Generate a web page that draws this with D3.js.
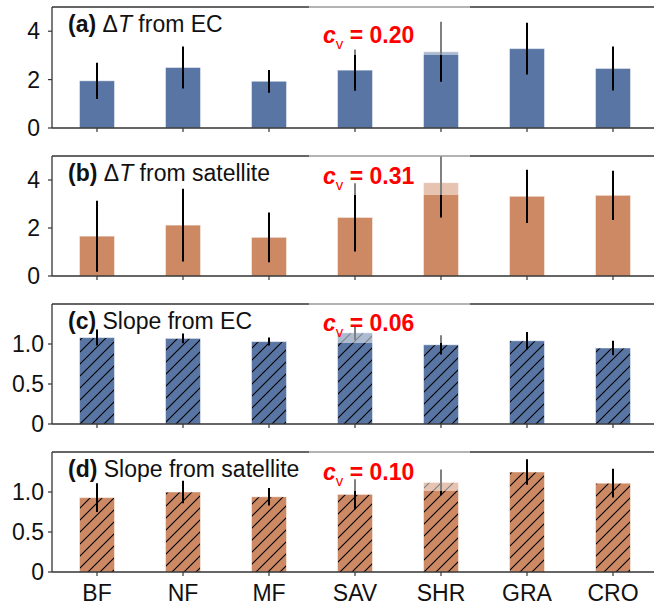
<!DOCTYPE html>
<html>
<head>
<meta charset="utf-8">
<script src="https://cdnjs.cloudflare.com/ajax/libs/d3/7.8.5/d3.min.js"></script>
<style>
  body { margin: 0; background: #fff; }
  svg { display: block; font-family: "Liberation Sans", Arial, sans-serif; }
</style>
</head>
<body>
<svg id="chart" width="654" height="605"></svg>
<script>
// land cover types
const categories = ["BF", "NF", "MF", "SAV", "SHR", "GRA", "CRO"];

// (a) dT from EC
const dtEcMean = [1.95, 2.50, 1.93, 2.39, 3.15, 3.28, 2.46];
const dtEcErr  = [0.75, 0.87, 0.47, 0.85, 1.24, 1.07, 0.91];
// (b) dT from satellite
const dtSatMean = [1.66, 2.12, 1.61, 2.44, 3.89, 3.32, 3.36];
const dtSatErr  = [1.48, 1.52, 1.04, 1.42, 1.45, 1.11, 1.03];
// (c) slope from EC
const slopeEcMean = [1.08, 1.07, 1.03, 1.14, 0.99, 1.04, 0.95];
const slopeEcErr  = [0.10, 0.06, 0.05, 0.09, 0.12, 0.11, 0.09];
// (d) slope from satellite
const slopeSatMean = [0.93, 1.00, 0.94, 0.97, 1.12, 1.25, 1.11];
const slopeSatErr  = [0.18, 0.14, 0.11, 0.19, 0.16, 0.16, 0.18];

const panelLetters = ["(a)", "(b)", "(c)", "(d)"];
const cvValues = ["0.20", "0.31", "0.06", "0.10"];

const dtTicks = [0, 2, 4];
const dtTickLabels = ["0", "2", "4"];
const slopeTicks = [0, 0.5, 1.0];
const slopeTickLabels = ["0", "0.5", "1.0"];

const blue = "#5875a4";
const orange = "#cc8963";
const spine = "#333";

const svg = d3.select("#chart");
const W = 654;

// hatch pattern for slope panels
const defs = svg.append("defs");
const hatch = defs.append("pattern")
    .attr("id", "hatch")
    .attr("patternUnits", "userSpaceOnUse")
    .attr("width", 12)
    .attr("height", 12);
hatch.append("path")
    .attr("d", "M0,12 L12,0 M-3,3 L3,-3 M9,15 L15,9")
    .attr("stroke", "#000")
    .attr("stroke-width", 1.1);

const x = d3.scaleBand()
    .domain(categories)
    .range([54, 656])
    .paddingInner(0.593)
    .paddingOuter(0.2965);

const panels = [
    { top: 7,   bottom: 128, max: 5,   mean: dtEcMean,     err: dtEcErr,     color: blue,   hatch: false,
      ticks: dtTicks, tickLabels: dtTickLabels, labelX: 40, title: [" \u0394", "T", " from EC"], cvDy: 36, boxH: 48 },
    { top: 156, bottom: 276, max: 5,   mean: dtSatMean,    err: dtSatErr,    color: orange, hatch: false,
      ticks: dtTicks, tickLabels: dtTickLabels, labelX: 40, title: [" \u0394", "T", " from satellite"], cvDy: 27.5, boxH: 39 },
    { top: 304, bottom: 424, max: 1.5, mean: slopeEcMean,  err: slopeEcErr,  color: blue,   hatch: true,
      ticks: slopeTicks, tickLabels: slopeTickLabels, labelX: 44, title: [" Slope from EC"], cvDy: 27, boxH: 39 },
    { top: 452, bottom: 572, max: 1.5, mean: slopeSatMean, err: slopeSatErr, color: orange, hatch: true,
      ticks: slopeTicks, tickLabels: slopeTickLabels, labelX: 44, title: [" Slope from satellite"], cvDy: 27.5, boxH: 39 }
];

panels.forEach((p, pi) => {
    const y = d3.scaleLinear().domain([0, p.max]).range([p.bottom, p.top]);
    const g = svg.append("g").attr("class", "panel");
    const data = categories.map((c, i) => ({ cat: c, mean: p.mean[i], err: p.err[i] }));

    // bars
    g.selectAll(".bar")
        .data(data)
        .enter().append("rect")
        .attr("class", "bar")
        .attr("x", d => x(d.cat))
        .attr("y", d => y(d.mean))
        .attr("width", x.bandwidth())
        .attr("height", d => y(0) - y(d.mean))
        .attr("fill", p.color)
        .attr("stroke", "rgba(255,255,255,0.45)")
        .attr("stroke-width", 1);

    if (p.hatch) {
        g.selectAll(".hatch")
            .data(data)
            .enter().append("rect")
            .attr("class", "hatch")
            .attr("x", d => x(d.cat) + 0.5)
            .attr("y", d => y(d.mean) + 0.5)
            .attr("width", x.bandwidth() - 1)
            .attr("height", d => y(0) - y(d.mean) - 0.5)
            .attr("fill", "url(#hatch)");
    }

    // error bars (clipped at the top of the axes)
    g.selectAll(".err")
        .data(data)
        .enter().append("line")
        .attr("class", "err")
        .attr("x1", d => x(d.cat) + x.bandwidth() / 2)
        .attr("x2", d => x(d.cat) + x.bandwidth() / 2)
        .attr("y1", d => y(Math.min(d.mean + d.err, p.max)))
        .attr("y2", d => y(d.mean - d.err))
        .attr("stroke", "#000")
        .attr("stroke-width", 2);

    // spines
    g.append("line").attr("x1", 52).attr("x2", W).attr("y1", p.top).attr("y2", p.top)
        .attr("stroke", spine).attr("stroke-width", 1.3);
    g.append("line").attr("x1", 52).attr("x2", W).attr("y1", p.bottom).attr("y2", p.bottom)
        .attr("stroke", spine).attr("stroke-width", 1.3);
    g.append("line").attr("x1", 52).attr("x2", 52).attr("y1", p.top).attr("y2", p.bottom)
        .attr("stroke", spine).attr("stroke-width", 1.3);

    // y ticks
    p.ticks.forEach((t, i) => {
        g.append("line").attr("x1", 48).attr("x2", 52).attr("y1", y(t)).attr("y2", y(t))
            .attr("stroke", spine).attr("stroke-width", 1.2);
        g.append("text")
            .attr("x", p.labelX)
            .attr("y", y(t))
            .attr("dy", "0.36em")
            .attr("text-anchor", "end")
            .style("font-size", "23px")
            .attr("fill", "#111")
            .text(p.tickLabels[i]);
    });

    // x ticks
    categories.forEach(c => {
        g.append("line")
            .attr("x1", x(c) + x.bandwidth() / 2).attr("x2", x(c) + x.bandwidth() / 2)
            .attr("y1", p.bottom).attr("y2", p.bottom + 4)
            .attr("stroke", spine).attr("stroke-width", 1.2);
    });

    // translucent label box behind the cv text
    g.append("rect")
        .attr("x", 309)
        .attr("y", p.top - 3)
        .attr("width", 161)
        .attr("height", p.boxH + 3)
        .attr("fill", "#fff")
        .attr("fill-opacity", 0.5);

    // panel title
    const title = g.append("text")
        .attr("x", 68)
        .attr("y", p.top + 25)
        .style("font-size", "23px")
        .attr("fill", "#111");
    title.append("tspan").style("font-weight", "bold").text(panelLetters[pi]);
    p.title.forEach(part => {
        const ts = title.append("tspan").text(part);
        if (part === "T") ts.style("font-style", "italic");
    });

    // coefficient of variation
    const cv = g.append("text")
        .attr("x", 323)
        .attr("y", p.top + p.cvDy)
        .attr("fill", "#ff0000")
        .style("font-weight", "bold")
        .style("font-size", "23px");
    cv.append("tspan").style("font-style", "italic").text("c");
    cv.append("tspan").attr("dy", 6).style("font-size", "15px").style("font-weight", "normal").text("v");
    cv.append("tspan").attr("dy", -6).text(" = " + cvValues[pi]);
});

// category labels under the last panel
svg.append("g").selectAll("text")
    .data(categories)
    .enter().append("text")
    .attr("x", d => x(d) + x.bandwidth() / 2)
    .attr("y", 601)
    .attr("text-anchor", "middle")
    .style("font-size", "23px")
    .attr("fill", "#111")
    .text(d => d);
</script>
</body>
</html>
